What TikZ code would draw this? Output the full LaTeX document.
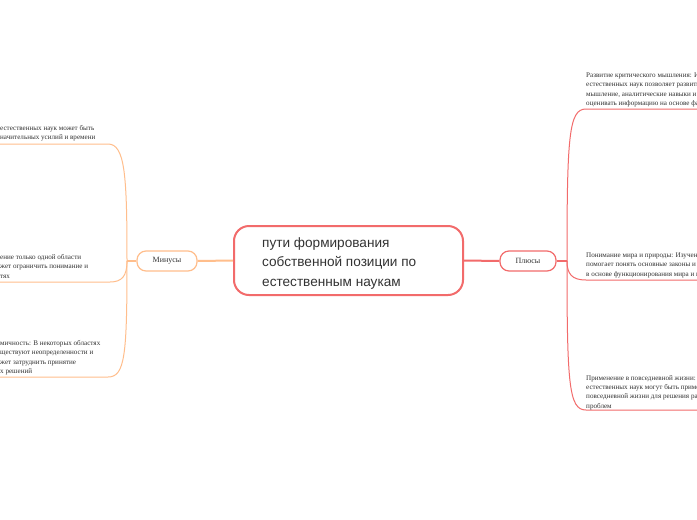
\documentclass[tikz,border=0pt]{standalone}
\usepackage{fontspec}
\setmainfont{Liberation Serif}
\newfontfamily\censans{Liberation Sans}
\definecolor{redc}{HTML}{F26B6B}
\definecolor{orc}{HTML}{FFBE8C}
\definecolor{txt}{HTML}{333333}
\tikzset{
  mainbox/.style={draw=redc, line width=2pt, rounded corners=15pt, minimum width=229pt, minimum height=69pt, inner sep=0pt},
  minbox/.style={draw=orc, line width=1.2pt, rounded corners=9pt, minimum width=60pt, minimum height=20pt, inner sep=0pt, font=\fontsize{8}{9}\selectfont, text=txt},
  plusbox/.style={draw=redc, line width=1.2pt, rounded corners=9pt, minimum width=56pt, minimum height=20pt, inner sep=0pt, font=\fontsize{8}{9}\selectfont, text=txt},
  leaf/.style={anchor=base west, inner sep=0pt, align=left, font=\fontsize{7.1}{9.4}\selectfont, text=txt},
  redline/.style={draw=redc, line width=1pt},
  orline/.style={draw=orc, line width=1pt},
}
\begin{document}
\begin{tikzpicture}[x=1pt,y=-1pt]
\useasboundingbox (0,0) rectangle (697,520);
\clip (0,0) rectangle (697,520);
\fill[white] (0,0) rectangle (697,520);
% central node
\node[mainbox] (c) at (348.5,260.5) {};
\node[anchor=base west, inner sep=0pt, align=left, font=\censans\fontsize{13.6}{19.5}\selectfont, text=txt] (ct) at (262,286) {пути формирования\\собственной позиции по\\естественным наукам};
% branch nodes
\node[minbox] (minus) at (167,261) {Минусы};
\node[plusbox] (plus) at (528,261) {Плюсы};
\draw[orc, line width=2pt] (c.west) -- (minus.east);
\draw[redc, line width=2pt] (c.east) -- (plus.west);
% junction coordinates
\coordinate (lj) at (127,261);
\coordinate (rj) at (567,261);
\draw[orc, line width=1.5pt] (minus.west) -- (lj);
\draw[redc, line width=1.5pt] (plus.east) -- (rj);
% left leaves
\coordinate (l1) at (0,144);
\coordinate (l2) at (0,282);
\coordinate (l3) at (0,377);
\draw[orline] (lj) .. controls (127,175) and (125,144) .. (108,144) -- (l1);
\draw[orline] (lj) .. controls (127,276) and (122,282) .. (110,282) -- (l2);
\draw[orline] (lj) .. controls (127,355) and (125,377) .. (108,377) -- (l3);
\node[leaf] (lt1) at (0,139.4) {естественных наук может быть\\начительных усилий и времени};
\node[leaf] (lt2) at (0,278.3) {ение только одной области\\жет ограничить понимание и\\тях};
\node[leaf] (lt3) at (0,373.7) {мичность: В некоторых областях\\ществуют неопределенности и\\жет затруднить принятие\\х решений};
% right leaves
\coordinate (r1) at (697,109);
\coordinate (r2) at (697,280);
\coordinate (r3) at (697,410);
\draw[redline] (rj) .. controls (567,135) and (569,109) .. (586,109) -- (r1);
\draw[redline] (rj) .. controls (567,274) and (572,280) .. (586,280) -- (r2);
\draw[redline] (rj) .. controls (567,385) and (569,410) .. (586,410) -- (r3);
\node[leaf] (rt1) at (586,105.7) {Развитие критического мышления: Изучение\\естественных наук позволяет развить критическое\\мышление, аналитические навыки и умение\\оценивать информацию на основе фактов};
\node[leaf] (rt2) at (586,276.3) {Понимание мира и природы: Изучение\\помогает понять основные законы и принципы,\\в основе функционирования мира и природы};
\node[leaf] (rt3) at (586,408.2) {Применение в повседневной жизни: Знания\\естественных наук могут быть применены в\\повседневной жизни для решения различных\\проблем};
\end{tikzpicture}
\end{document}
